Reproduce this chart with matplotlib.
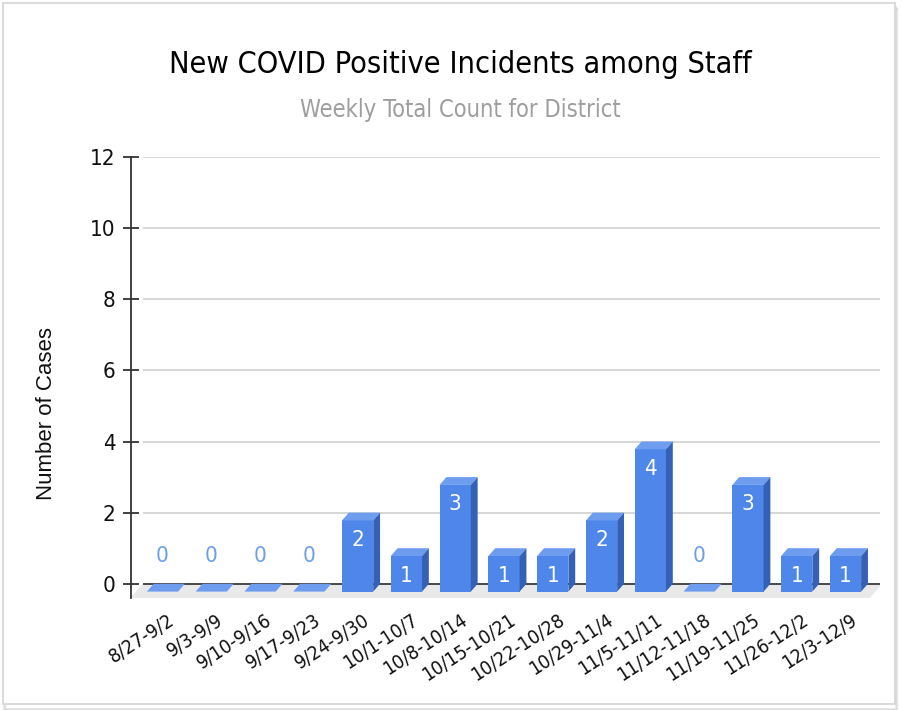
import matplotlib
matplotlib.use("Agg")
import matplotlib.pyplot as plt
from matplotlib import font_manager
from matplotlib.patches import Polygon, Rectangle
from matplotlib.transforms import ScaledTranslation

# data
weeks = ["8/27-9/2", "9/3-9/9", "9/10-9/16", "9/17-9/23", "9/24-9/30",
         "10/1-10/7", "10/8-10/14", "10/15-10/21", "10/22-10/28", "10/29-11/4",
         "11/5-11/11", "11/12-11/18", "11/19-11/25", "11/26-12/2", "12/3-12/9"]
cases = [0, 0, 0, 0, 2, 1, 3, 1, 1, 2, 4, 0, 3, 1, 1]
y_ticks = [0, 2, 4, 6, 8, 10, 12]

title = "New COVID Positive Incidents among Staff"
subtitle = "Weekly Total Count for District"
y_label = "Number of Cases"

# the chart uses a narrow face; use DejaVu Sans Condensed when it's there
FONT = {"family": "Liberation Sans"}
SCALE = 0.85
_cond = font_manager.FontProperties(family="DejaVu Sans", stretch="condensed")
if "Condensed" in font_manager.findfont(_cond):
    FONT = {"family": "DejaVu Sans", "stretch": "condensed"}
    SCALE = 1.0

FRONT = "#4f86e9"
TOP = "#6e9df0"
SIDE = "#3461b6"

# fake 3d depth (data units)
DX = 0.14
DY = 0.22
W = 0.64

fig = plt.figure(figsize=(9.02, 7.10), dpi=100)
fig.patch.set_facecolor("white")

# card frame with soft shadow
for i, a in enumerate([0.10, 0.07, 0.04]):
    fig.patches.append(Rectangle((4 / 902 + i / 902, 1 / 710 - i / 710), 892 / 902, 702 / 710,
                                 transform=fig.transFigure, fill=False,
                                 edgecolor="black", alpha=a, lw=1.2, zorder=-3))
fig.patches.append(Rectangle((3 / 902, 6 / 710), 892 / 902, 701 / 710,
                             transform=fig.transFigure, facecolor="white",
                             edgecolor="#d4d4d4", lw=1.2, zorder=-2))

ax = fig.add_axes([131 / 902, 112 / 710, 749 / 902, 441 / 710])
ax.set_zorder(2)
ax.set_facecolor("none")
x = list(range(len(weeks)))
ax.set_xlim(-0.645, 14.707)
ax.set_ylim(-0.4, 12)

# floor
ax.add_patch(Polygon([(-0.40, 0), (14.75, 0), (14.50, -0.4), (-0.665, -0.4)],
                     closed=True, facecolor="#e9e9e9", edgecolor="none", zorder=1))
# gridlines
ax.hlines([t for t in y_ticks if t > 0], -0.40, 14.707, color="#d3d3d3", lw=1.3, zorder=1.5)
ax.hlines(0, -0.40, 14.707, color="#3a3a3a", lw=1.3, zorder=2)

# bars: front face + top + side
ax.bar(x, cases, width=W, bottom=-DY, color=FRONT, zorder=3)
for xi, v in zip(x, cases):
    l, r = xi - W / 2, xi + W / 2
    top = v - DY
    ax.add_patch(Polygon([(l, top), (r, top), (r + DX, top + DY), (l + DX, top + DY)],
                         closed=True, facecolor=TOP, edgecolor="none", zorder=3))
    if v > 0:
        ax.add_patch(Polygon([(r, -DY), (r + DX, 0), (r + DX, top + DY), (r, top)],
                             closed=True, facecolor=SIDE, edgecolor="none", zorder=3))
        ax.text(xi, top - 0.55, str(v), ha="center", va="center", color="white",
                fontsize=16 * SCALE, zorder=4, **FONT)
    else:
        ax.text(xi, 0.77, str(v), ha="center", va="center", color="#6d9eeb",
                fontsize=16 * SCALE, zorder=4, **FONT)

# axes styling
for s in ["top", "right", "bottom"]:
    ax.spines[s].set_visible(False)
ax.spines["left"].set_color("#333333")
ax.spines["left"].set_linewidth(1.3)
ax.set_yticks(y_ticks)
ax.set_yticklabels([str(t) for t in y_ticks], fontsize=16 * SCALE, color="#111111", **FONT)
ax.tick_params(axis="y", direction="inout", length=12, width=1.3, color="#333333", pad=5)

ax.set_xticks(x)
ax.set_xticklabels(weeks, rotation=33, ha="right", rotation_mode="anchor",
                   fontsize=14 * SCALE, color="#111111", **FONT)
ax.tick_params(axis="x", length=0, pad=9)
shift = ScaledTranslation(0.05, 0, fig.dpi_scale_trans)
for lab in ax.get_xticklabels():
    lab.set_transform(lab.get_transform() + shift)

fig.text(460 / 902, (710 - 73) / 710, title, ha="center", va="baseline",
         fontsize=22 * SCALE, color="black", **FONT)
fig.text(460 / 902, (710 - 117) / 710, subtitle, ha="center", va="baseline",
         fontsize=17 * SCALE, color="#9e9e9e", **FONT)
fig.text(47 / 902, (710 - 413) / 710, y_label, rotation=90, ha="center", va="center",
         fontsize=16, family="Liberation Sans", color="#111111")

fig.savefig("out.png", dpi=100, facecolor="white")
